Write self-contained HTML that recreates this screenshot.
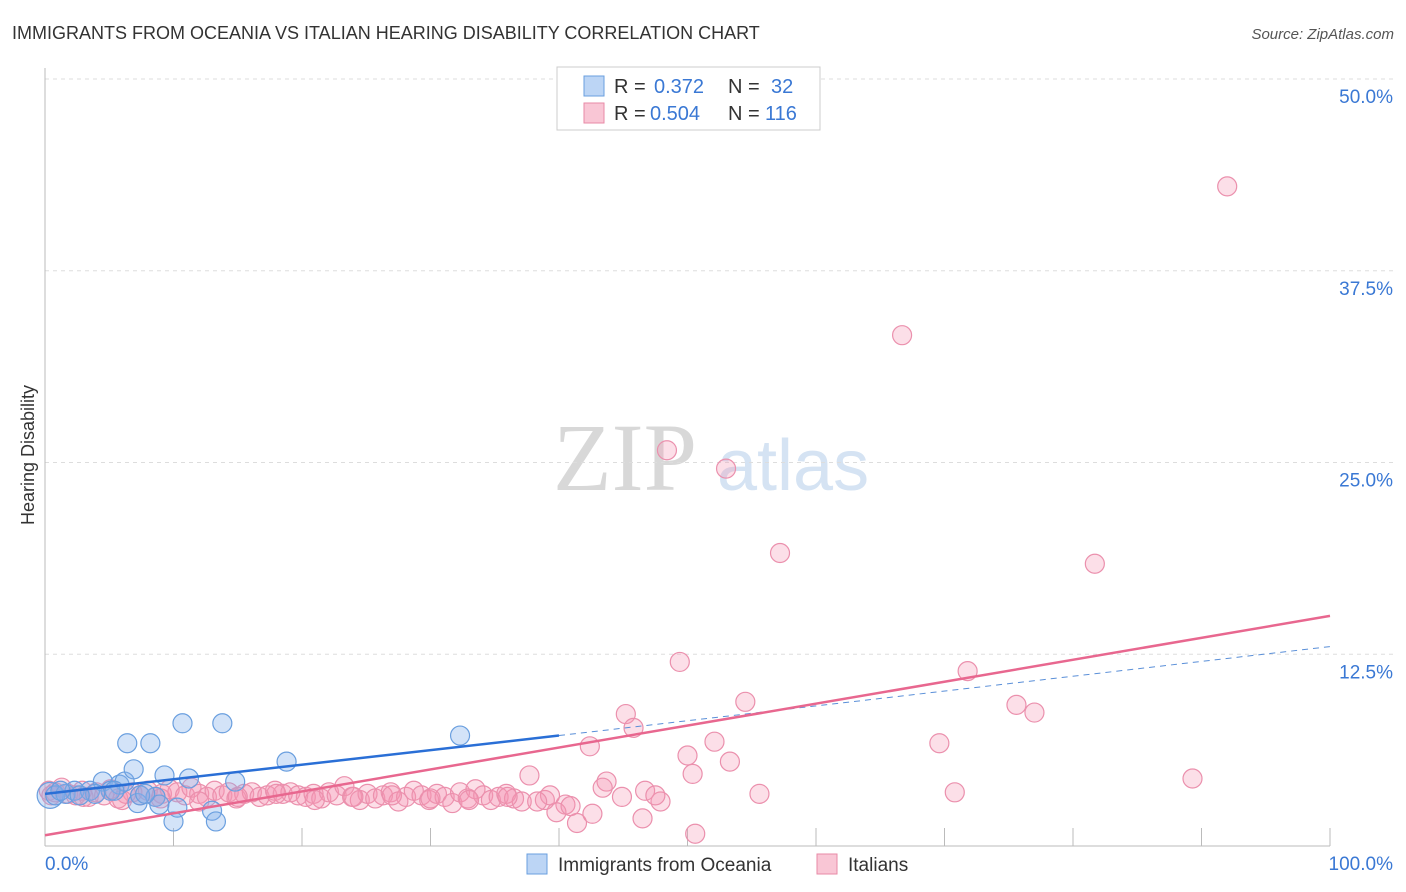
<!DOCTYPE html>
<html><head><meta charset="utf-8"><style>
body{margin:0;background:#fff;font-family:"Liberation Sans",sans-serif;}
svg{display:block}
</style></head><body>
<svg id="c" width="1406" height="892" xmlns="http://www.w3.org/2000/svg">
<text x="12" y="39" font-size="18" fill="#333">IMMIGRANTS FROM OCEANIA VS ITALIAN HEARING DISABILITY CORRELATION CHART</text>
<text x="1394" y="39" font-size="15" fill="#555" font-style="italic" text-anchor="end">Source: ZipAtlas.com</text>
<text x="34" y="455" font-size="18" fill="#333" transform="rotate(-90 34 455)" text-anchor="middle">Hearing Disability</text>
<g><text x="553" y="490" font-size="96" fill="#d8d8d8" font-family="Liberation Serif,serif">ZIP</text><text x="717" y="490" font-size="72" fill="#d5e3f3">atlas</text></g>
<g id="grid"></g><g id="axes"></g><g id="pts"></g><g id="lines"></g>
<g>
<rect x="557" y="67" width="263" height="63" fill="#fff" stroke="#ccc"/>
<rect x="584" y="76" width="20" height="20" fill="#bcd5f5" stroke="#6a9fdf"/>
<text x="614" y="93" font-size="20" fill="#333">R =</text><text x="654" y="93" font-size="20" fill="#3a78d4">0.372</text>
<text x="728" y="93" font-size="20" fill="#333">N =</text><text x="771" y="93" font-size="20" fill="#3a78d4">32</text>
<rect x="584" y="103" width="20" height="20" fill="#f9c6d5" stroke="#e88aa6"/>
<text x="614" y="120" font-size="20" fill="#333">R =</text><text x="650" y="120" font-size="20" fill="#3a78d4">0.504</text>
<text x="728" y="120" font-size="20" fill="#333">N =</text><text x="765" y="120" font-size="20" fill="#3a78d4">116</text>
</g>
<g>
<rect x="527" y="854" width="20" height="20" fill="#bcd5f5" stroke="#6a9fdf"/>
<text x="558" y="871" font-size="19" fill="#333">Immigrants from Oceania</text>
<rect x="817" y="854" width="20" height="20" fill="#f9c6d5" stroke="#e88aa6"/>
<text x="848" y="871" font-size="19" fill="#333">Italians</text>
</g>
</svg>
<script>
const yTicks=[12.5,25,37.5,50];
const yTickLabels=["12.5%","25.0%","37.5%","50.0%"];
const xTickVals=[0,10,20,30,40,50,60,70,80,90,100];
const xLabels=["0.0%","100.0%"];
const blueX=[0.4,0.8,1.6,2.3,3.5,4.5,5.8,6.2,6.4,6.9,7.2,8.2,8.6,8.9,9.3,10.0,10.3,10.7,11.2,13.0,13.3,13.8,14.8,18.8,32.3,5.1,7.4,3.9,1.2,2.7,5.4,7.8];
const blueY=[3.3,3.3,3.4,3.6,3.6,4.2,4.0,4.2,6.7,5.0,2.8,6.7,3.2,2.7,4.6,1.6,2.5,8.0,4.4,2.3,1.6,8.0,4.2,5.5,7.2,3.6,3.3,3.4,3.6,3.3,3.6,3.4];
const pinkX=[92.0,66.7,48.4,53.0,57.2,81.7,49.4,71.8,54.5,75.6,77.0,45.2,45.8,69.6,42.4,52.1,50.0,53.3,50.4,89.3,37.7,43.7,43.4,46.7,55.6,70.8,44.9,47.9,47.5,46.5,50.6,41.4,42.6,40.5,39.8,40.9,38.9,39.3,
0.3,0.8,1.3,1.8,2.4,2.9,3.4,4.0,4.6,5.1,5.7,6.3,6.8,7.4,8.0,8.6,9.1,9.7,10.3,10.9,11.4,12.0,12.6,13.2,13.8,14.3,14.9,15.5,16.1,16.7,17.3,17.9,18.5,19.1,19.7,20.3,20.9,21.5,22.1,22.7,23.3,23.9,24.5,25.1,25.7,26.3,26.9,27.5,28.1,28.7,29.3,29.9,30.5,31.1,31.7,32.3,32.9,33.5,34.1,34.7,35.3,35.9,36.5,37.1,0.5,3.0,6.0,9.0,12.0,15.0,18.0,21.0,24.0,27.0,30.0,33.0,36.0,38.3];
const pinkY=[43.0,33.3,25.8,24.6,19.1,18.4,12.0,11.4,9.4,9.2,8.7,8.6,7.7,6.7,6.5,6.8,5.9,5.5,4.7,4.4,4.6,4.2,3.8,3.6,3.4,3.5,3.2,2.9,3.3,1.8,0.8,1.5,2.1,2.7,2.2,2.6,3.0,3.3,
3.6,3.5,3.8,3.4,3.3,3.6,3.2,3.5,3.3,3.7,3.1,3.4,3.5,3.3,3.6,3.2,3.4,3.7,3.5,3.3,3.8,3.4,3.2,3.6,3.3,3.5,3.1,3.4,3.5,3.2,3.3,3.6,3.4,3.5,3.3,3.2,3.4,3.1,3.5,3.3,3.9,3.2,3.0,3.4,3.1,3.3,3.5,2.9,3.2,3.6,3.3,3.0,3.4,3.2,2.8,3.5,3.1,3.7,3.3,3.0,3.2,3.4,3.1,2.9,3.3,3.2,3.0,3.1,2.9,3.2,3.4,3.0,3.2,3.3,3.1,3.0,3.2,2.9,3.1,2.8];
const blueLineX=[0,40,100];
const blueLineY=[3.4,7.2,13.0];
const pinkLineX=[0,100];
const pinkLineY=[0.7,15.0];
const X0=45,X1=1330,Y0=846,Y50=79;
const sx=v=>X0+(X1-X0)*v/100;
const sy=v=>Y0-(Y0-Y50)*v/50;
const NS="http://www.w3.org/2000/svg";
function mk(p,t,a){const e=document.createElementNS(NS,t);for(const k in a)e.setAttribute(k,a[k]);p.appendChild(e);return e;}
const grid=document.getElementById('grid'),axes=document.getElementById('axes'),pts=document.getElementById('pts'),lines=document.getElementById('lines');
yTicks.forEach((v,i)=>{
const g=mk(grid,'line',{x1:X0,x2:1394,y1:sy(v),y2:sy(v),stroke:'#ddd','stroke-dasharray':'4,4'});


const t=mk(grid,'text',{x:1393,y:sy(v)+24,'font-size':19,fill:'#3a78d4','text-anchor':'end'});
t.textContent=yTickLabels[i];


});
const ax=mk(axes,'line',{x1:X0,x2:X0,y1:68,y2:Y0,stroke:'#bbb'});


const bx=mk(axes,'line',{x1:X0,x2:X1,y1:Y0,y2:Y0,stroke:'#bbb'});


xTickVals.forEach(v=>{const t=mk(axes,'line',{x1:sx(v),x2:sx(v),y1:828,y2:Y0,stroke:'#bbb'});

});
const l0=mk(axes,'text',{x:45,y:870,'font-size':19,fill:'#3a78d4'});l0.textContent=xLabels[0];


const l1=mk(axes,'text',{x:1393,y:870,'font-size':19,fill:'#3a78d4','text-anchor':'end'});l1.textContent=xLabels[1];


pinkX.forEach((v,i)=>{const c=mk(pts,'circle',{cx:sx(v),cy:sy(pinkY[i]),r:9.5,fill:'rgba(244,150,180,0.3)',stroke:'#eb90ad','stroke-width':1.2});

});
blueX.forEach((v,i)=>{const c=mk(pts,'circle',{cx:sx(v),cy:sy(blueY[i]),r:i==0?13:9.5,fill:'rgba(130,175,235,0.35)',stroke:'#6a9fdf','stroke-width':1.2});

});
const bl=mk(lines,'line',{x1:sx(blueLineX[0]),y1:sy(blueLineY[0]),x2:sx(blueLineX[1]),y2:sy(blueLineY[1]),stroke:'#2a6fd6','stroke-width':2.5});


const bd=mk(lines,'line',{x1:sx(blueLineX[1]),y1:sy(blueLineY[1]),x2:sx(blueLineX[2]),y2:sy(blueLineY[2]),stroke:'#5a8fd8','stroke-width':1,'stroke-dasharray':'6,5'});


const pl=mk(lines,'line',{x1:sx(pinkLineX[0]),y1:sy(pinkLineY[0]),x2:sx(pinkLineX[1]),y2:sy(pinkLineY[1]),stroke:'#e8678f','stroke-width':2.5});


</script>
</body></html>
